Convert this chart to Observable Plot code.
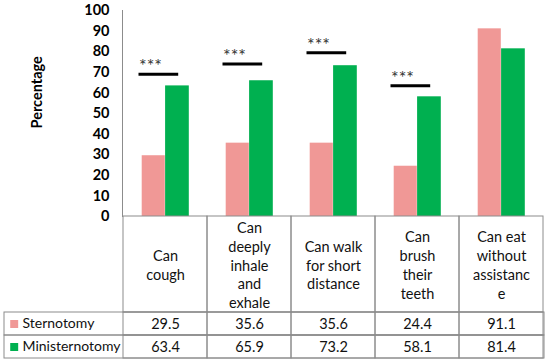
<!DOCTYPE html>
<html>
<head>
<meta charset="utf-8">
<script src="https://cdn.jsdelivr.net/npm/d3@7"></script>
<script src="https://cdn.jsdelivr.net/npm/@observablehq/plot@0.6"></script>
<style>
  html, body { margin: 0; padding: 0; background: #fff; }
  svg { display: block; overflow: visible; }
</style>
</head>
<body>
<div id="chart"></div>
<script>
// ---- data ----
const categories = ["Can cough", "Can deeply inhale and exhale", "Can walk for short distance", "Can brush their teeth", "Can eat without assistance"];
const headerLabels = ["Can\ncough", "Can\ndeeply\ninhale\nand\nexhale", "Can walk\nfor short\ndistance", "Can\nbrush\ntheir\nteeth", "Can eat\nwithout\nassistanc\ne"];
const seriesNames = ["Sternotomy", "Ministernotomy"];
const sternotomy = [29.5, 35.6, 35.6, 24.4, 91.1];
const ministernotomy = [63.4, 65.9, 73.2, 58.1, 81.4];
const sigCategories = ["Can cough", "Can deeply inhale and exhale", "Can walk for short distance", "Can brush their teeth"];
const sigLevels = [69, 74, 79.5, 63.5];
const sigLabels = ["***", "***", "***", "***"];
const yTicks = [0, 10, 20, 30, 40, 50, 60, 70, 80, 90, 100];
const seriesColors = ["#F09896", "#00B050"];

// ---- derived tables ----
const barsS = categories.map((c, i) => ({category: c, value: sternotomy[i]}));
const barsM = categories.map((c, i) => ({category: c, value: ministernotomy[i]}));
const sig = sigCategories.map((c, i) => ({category: c, level: sigLevels[i], label: sigLabels[i]}));
const tableRows = seriesNames.flatMap((s, si) =>
  categories.map((c, i) => ({series: s, category: c, value: (si === 0 ? sternotomy : ministernotomy)[i]})));

const W = 550, ML = 122, MR = 6;
const font = "Lato, 'Open Sans', sans-serif";
const grid = "#8c8c8c";
const xScale = {domain: categories, padding: 0, axis: null};
const style = {fontFamily: font, fontSize: "14.5px", color: "#000", background: "#fff", overflow: "visible"};

// ---- main chart ----
const chart = Plot.plot({
  width: W, height: 216,
  marginLeft: ML, marginRight: MR, marginTop: 10, marginBottom: 0,
  style,
  x: xScale,
  y: {domain: [0, 100], axis: null},
  marks: [
    Plot.axisY({ticks: yTicks, tickSize: 0, tickPadding: 13, label: null, fontWeight: "bold", fontSize: 14.5}),
    Plot.frame({anchor: "left", stroke: grid}),
    Plot.barY(barsS, {x: "category", y: "value", fill: seriesColors[0], insetLeft: 18.7, insetRight: 42.2}),
    Plot.barY(barsM, {x: "category", y: "value", fill: seriesColors[1], insetLeft: 42.1, insetRight: 18.2}),
    Plot.tickY(sig, {x: "category", y: "level", stroke: "#000", strokeWidth: 3, insetLeft: 15.5, insetRight: 28.8}),
    Plot.text(sig, {x: "category", y: "level", text: "label", dx: -15, dy: -2, lineAnchor: "bottom", fontSize: 18, fill: "#333", letterSpacing: "1.5px"}),
    Plot.text(["Percentage"], {frameAnchor: "left", dx: -85, dy: 15, rotate: -90, fontWeight: "bold", fontSize: 14.5})
  ]
});

// ---- table header row ----
const header = Plot.plot({
  width: W, height: 96,
  marginLeft: ML, marginRight: MR, marginTop: 0, marginBottom: 0,
  style,
  x: xScale,
  marks: [
    Plot.cell(categories, {x: d => d, fill: "none", stroke: grid}),
    Plot.text(categories, {x: d => d, text: (d, i) => headerLabels[i], frameAnchor: "middle", lineAnchor: "middle", lineHeight: 1.29, fontSize: 14.5, fill: "#111"})
  ]
});

// ---- table value rows ----
const rows = Plot.plot({
  width: W, height: 52,
  marginLeft: ML, marginRight: MR, marginTop: 0, marginBottom: 6,
  style,
  x: xScale,
  y: {domain: seriesNames, padding: 0, axis: null},
  color: {domain: seriesNames, range: seriesColors},
  marks: [
    Plot.cell(seriesNames, {y: d => d, fill: "none", stroke: grid, insetLeft: -118}),
    Plot.cell(tableRows, {x: "category", y: "series", fill: "none", stroke: grid}),
    Plot.text(tableRows, {x: "category", y: "series", text: d => d.value.toFixed(1), fontSize: 14.5, fill: "#111"}),
    Plot.dot(seriesNames, {y: d => d, frameAnchor: "left", dx: -108.3, symbol: "square", r: 4.5, fill: d => d, stroke: null}),
    Plot.text(seriesNames, {y: d => d, frameAnchor: "left", dx: -100, textAnchor: "start", fontSize: 14, fill: "#111"})
  ]
});

const root = document.getElementById("chart");
root.append(chart, header, rows);
</script>
</body>
</html>
